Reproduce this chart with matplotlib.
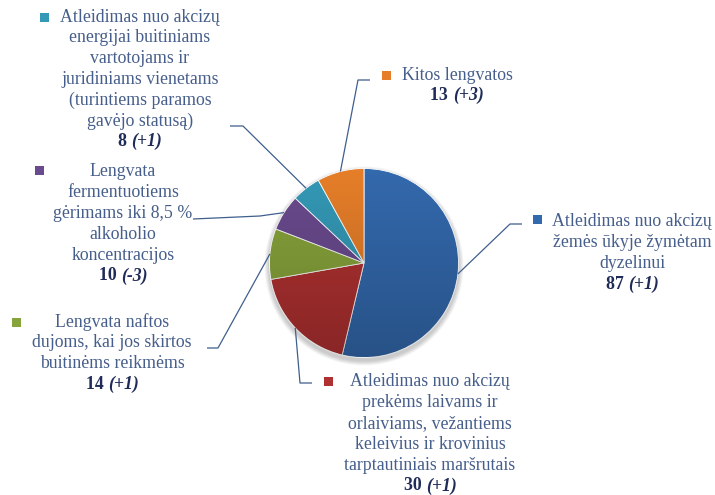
import numpy as np
import matplotlib
matplotlib.use('Agg')
import matplotlib.pyplot as plt
from matplotlib.patches import Circle, Rectangle

# ---- data (clockwise from 12 o'clock) ----
values  = [87, 30, 14, 10, 8, 13]
changes = ['(+1)', '(+1)', '(+1)', '(-3)', '(+1)', '(+3)']
labels  = ['Atleidimas nuo akcizų\nžemės ūkyje žymėtam\ndyzelinui',
           'Atleidimas nuo akcizų\nprekėms laivams ir\norlaiviams, vežantiems\nkeleivius ir krovinius\ntarptautiniais maršrutais',
           'Lengvata naftos\ndujoms, kai jos skirtos\nbuitinėms reikmėms',
           'Lengvata\nfermentuotiems\ngėrimams iki 8,5 %\nalkoholio\nkoncentracijos',
           'Atleidimas nuo akcizų\nenergijai buitiniams\nvartotojams ir\njuridiniams vienetams\n(turintiems paramos\ngavėjo statusą)',
           'Kitos lengvatos']
colors  = ['#3369ad', '#b03131', '#87a33b', '#6a4a8e', '#3499b6', '#e67e29']

# ---- layout (pixel coords, y downward) ----
W, H = 715, 495
pie_c, pie_r = (364, 263), 94.5
# text block: (center x, first line y, marker x, marker y)
blocks = [(632, 222, 537, 219),
          (430, 382, 328, 381),
          (112, 322, 16, 322),
          (123, 172, 39, 170),
          (140, 17, 44, 17),
          (457, 75, 386, 75)]
# leader polylines from label side (wedge edge point appended later)
leaders = [[(522, 224), (510, 224)],
           [(312, 383), (300, 383)],
           [(207, 348), (218, 348)],
           [(193, 219), (260, 216)],
           [(230, 126), (243, 126)],
           [(370, 80), (358, 80)]]

txt_col  = '#465e8b'
num_col  = '#1f2b58'
line_col = '#3f5f8d'
line_h   = 20.8
fnt = 'Liberation Serif'
fs = 12.8

fig = plt.figure(figsize=(W/100, H/100), dpi=100)
ax = fig.add_axes([0, 0, 1, 1])

# soft shadow below the pie
for k in range(6):
    ax.add_patch(Circle((pie_c[0], pie_c[1] + 3), pie_r + 1 + k*0.8, facecolor='#000000',
                        alpha=0.035, edgecolor='none', zorder=0))

wedges, _ = ax.pie(values, colors=colors, startangle=-90, counterclock=True,
                   radius=pie_r, center=pie_c,
                   wedgeprops=dict(edgecolor='#ffffff', linewidth=0.6))
for w in wedges:
    w.set_zorder(2)

# vertical shading over the pie
grad = np.zeros((200, 1, 4))
grad[..., 3] = np.linspace(0.0, 0.22, 200)[:, None]
clip = Circle(pie_c, pie_r, transform=ax.transData)
im = ax.imshow(grad, extent=(pie_c[0]-pie_r, pie_c[0]+pie_r, pie_c[1]+pie_r, pie_c[1]-pie_r),
               aspect='auto', zorder=3, interpolation='bilinear')
im.set_clip_path(clip)

ax.set_xlim(0, W)
ax.set_ylim(H, 0)
ax.set_aspect('auto')
ax.axis('off')

fig.canvas.draw()
renderer = fig.canvas.get_renderer()

for i, w in enumerate(wedges):
    cx, cy, mx, my = blocks[i]
    # leader line to wedge middle on the rim
    th = np.deg2rad((w.theta1 + w.theta2) / 2)
    ex, ey = pie_c[0] + pie_r*np.cos(th), pie_c[1] + pie_r*np.sin(th)
    pts = leaders[i] + [(ex, ey)]
    ax.plot([p[0] for p in pts], [p[1] for p in pts], color=line_col, lw=0.9, zorder=4,
            solid_capstyle='butt')

    # marker square
    ax.add_patch(Rectangle((mx-4.5, my-4.5), 9, 9, facecolor=colors[i], edgecolor='none', zorder=5))

    lines = labels[i].split('\n')
    for j, ln in enumerate(lines):
        ax.text(cx, cy + j*line_h, ln, ha='center', va='center', fontsize=fs,
                family=fnt, color=txt_col)
    ny = cy + len(lines)*line_h
    t1 = ax.text(0, ny, f'{values[i]} ', ha='left', va='center', fontsize=fs,
                 family=fnt, fontweight='bold', color=num_col)
    t2 = ax.text(0, ny, changes[i], ha='left', va='center', fontsize=fs,
                 family=fnt, fontweight='bold', fontstyle='italic', color=num_col)
    w1 = t1.get_window_extent(renderer).width
    w2 = t2.get_window_extent(renderer).width
    x0 = cx - (w1 + w2) / 2
    t1.set_x(x0)
    t2.set_x(x0 + w1)

fig.savefig('out.png', dpi=100, facecolor='w')
